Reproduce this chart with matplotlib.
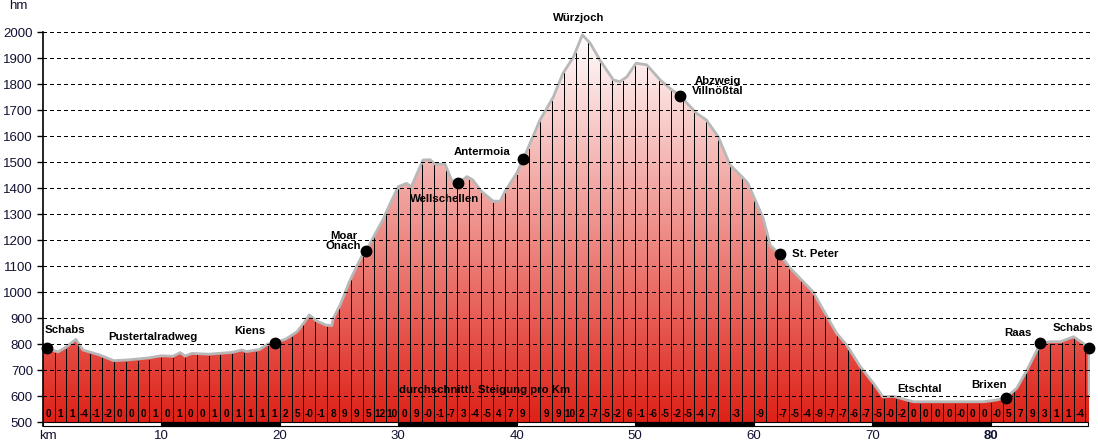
import numpy as np
import matplotlib
matplotlib.use("Agg")
import matplotlib.pyplot as plt
from matplotlib.colors import LinearSegmentedColormap
from matplotlib.patches import Rectangle, Polygon

plt.rcParams['font.family'] = ['Liberation Sans', 'DejaVu Sans']

# elevation profile: distance (km) and height (m)
km = [0.0, 0.34, 1.3, 2.0, 2.8, 3.4, 4.8, 6.0, 7.2, 9.0, 10.0, 11.0, 11.6, 12.0, 12.6,
      14.0, 16.0, 16.8, 17.2, 18.3, 19.0, 19.63, 20.5, 21.46, 22.0, 22.5, 23.1, 23.9,
      24.4, 24.52, 25.1, 25.9, 26.9, 27.3, 28.0, 28.7, 29.2, 30.0, 30.7, 31.1, 32.1,
      32.7, 33.1, 33.95, 34.5, 35.07, 35.8, 36.3, 37.05, 38.0, 38.6, 39.0, 40.0, 40.56,
      41.97, 43.1, 43.9, 44.8, 45.54, 46.2, 47.03, 48.15, 48.7, 49.3, 50.07, 50.97,
      52.1, 52.94, 53.8, 55.2, 56.0, 57.0, 58.0, 59.0, 59.5, 60.8, 61.4, 62.2, 63.1,
      65.0, 66.2, 67.0, 67.85, 69.0, 70.1, 70.9, 71.8, 72.9, 73.5, 79.4, 80.5, 81.3,
      82.2, 83.0, 84.2, 85.0, 85.9, 87.0, 87.8, 88.3]
hm = [785, 784, 771, 790, 819, 778, 759, 737, 740, 748, 756, 754, 768, 755, 765,
      762, 769, 778, 772, 780, 801, 806, 820, 848, 880, 913, 890, 874,
      872, 900, 951, 1043, 1137, 1159, 1220, 1278, 1329, 1406, 1419, 1406, 1509,
      1510, 1493, 1493, 1432, 1419, 1445, 1432, 1387, 1351, 1350, 1387, 1458, 1513,
      1663, 1752, 1842, 1906, 1990, 1958, 1893, 1817, 1810, 1829, 1881, 1875,
      1817, 1784, 1755, 1688, 1663, 1599, 1490, 1445, 1420, 1285, 1180, 1146, 1092,
      1002, 906, 842, 797, 714, 650, 598, 600, 586, 579, 579, 586, 595,
      631, 695, 804, 810, 810, 829, 804, 785]

# average gradient per km (%), empty where the chart shows nothing
slope = ["0", "1", "1", "-4", "-1", "-2", "0", "0", "0", "1",
         "0", "1", "0", "0", "1", "0", "1", "1", "1", "1",
         "2", "5", "-0", "-1", "8", "9", "9", "5", "12", "10",
         "0", "9", "-0", "-1", "-7", "3", "-4", "-5", "4", "7",
         "9", "", "9", "9", "10", "2", "-7", "-5", "-2", "6",
         "-1", "-6", "-5", "-2", "-5", "-4", "-7", "", "-3", "",
         "-9", "", "-7", "-5", "-4", "-9", "-7", "-7", "-6", "-7",
         "-5", "-0", "-2", "0", "0", "0", "0", "-0", "0", "0",
         "-0", "5", "7", "9", "3", "1", "1", "-4"]

# waypoints with a dot
dot_names = ["Schabs", "Kiens", "Moar Onach", "Wellschellen", "Antermoia",
             "Abzweig Villnößtal", "St. Peter", "Brixen", "Raas", "Schabs"]
dot_km = [0.34, 19.63, 27.3, 35.07, 40.56, 53.8, 62.2, 81.3, 84.2, 88.3]
dot_hm = [785, 806, 1159, 1419, 1513, 1755, 1146, 595, 804, 785]

# text labels
label_text = ["Schabs", "Pustertalradweg", "Kiens", "Moar\nOnach", "Wellschellen",
              "Antermoia", "Würzjoch", "Abzweig\nVillnößtal", "St. Peter",
              "Etschtal", "Brixen", "Raas", "Schabs", "durchschnittl. Steigung pro Km"]
label_pos = [(1.9, 855), (9.3, 827), (17.5, 851), (25.4, 1197), (33.95, 1358),
             (37.1, 1538), (45.2, 2056), (57.0, 1792), (65.2, 1146),
             (74.0, 627), (79.9, 643), (82.3, 842), (86.9, 861), (37.25, 624)]

x_ticks = [10, 20, 30, 40, 50, 60, 70, 80]
y_ticks = list(range(500, 2001, 100))

#######################################
# layout (pixels of a 1098x443 image)
#######################################
W, H = 1098, 443
x0, x1 = 42.7, 1090
y_top, y_bot = 32.3, 422.3
xmax = (x1 - x0) / 11.85

fig = plt.figure(figsize=(W / 100, H / 100), dpi=100)
ax = fig.add_axes([x0 / W, (H - y_bot) / H, (x1 - x0) / W, (y_bot - y_top) / H])
ax.set_xlim(0, xmax)
ax.set_ylim(500, 2000)

# gradient fill clipped to the profile
cmap = LinearSegmentedColormap.from_list("rw", [(0.87, 0.13, 0.09), (1, 1, 1)])
grad = np.linspace(0, 1, 256).reshape(-1, 1)
img = ax.imshow(grad, extent=(0, km[-1], 500, 2000), origin="lower", aspect="auto",
                cmap=cmap, zorder=1)
poly = Polygon(list(zip(km, hm)) + [(km[-1], 500), (0, 500)], closed=True,
               facecolor="none", edgecolor="none")
ax.add_patch(poly)
img.set_clip_path(poly)

# km lines
ks = np.arange(1, int(km[-1]) + 1)
tops = np.interp(ks, km, hm) - 7
ax.vlines(ks, 500, tops, color="black", lw=0.7, zorder=2, antialiased=False)

# outline
ax.plot(km + [km[-1]], hm + [610], color="#b8b8b8", lw=2.0, zorder=3,
        solid_joinstyle="round")

# grid
for v in y_ticks[1:]:
    ax.axhline(v, color="black", lw=0.7, ls=(0, (3.2, 3.2)), zorder=4, antialiased=False)

# slope labels
for i, s in enumerate(slope):
    ax.text(i + 0.5, 532, s, ha="center", va="center", fontsize=7.2,
            fontweight="bold", zorder=5)

# dots
ax.plot(dot_km, dot_hm, "o", color="black", ms=7.5, zorder=6, clip_on=False)

for t, (px, py) in zip(label_text, label_pos):
    ax.text(px, py, t, ha="center", va="center", fontsize=8.2, fontweight="bold",
            linespacing=1.0, zorder=7, clip_on=False)

# distance bar
ax.add_patch(Rectangle((0, 487), km[-1] - 0.1, 13, facecolor="white", edgecolor="black",
                       lw=0.8, clip_on=False, zorder=5))
for a in range(10, 80, 20):
    ax.add_patch(Rectangle((a, 487), 10, 13, facecolor="black", edgecolor="black",
                           lw=0.8, clip_on=False, zorder=5))

# axes
for sp in ["top", "right", "bottom"]:
    ax.spines[sp].set_visible(False)
ax.spines["left"].set_linewidth(1.2)
ax.spines["left"].set_bounds(487, 2000)
ax.set_yticks(y_ticks)
ax.set_yticklabels([str(v) for v in y_ticks], fontsize=9.5, color="#111133")
ax.tick_params(axis="y", length=4, width=1, pad=3)
ax.set_xticks([])
for t in x_ticks:
    ax.text(t, 448, str(t), ha="center", va="center", fontsize=9.5, color="#111133",
            fontweight="bold" if t == 80 else "normal", clip_on=False)
ax.text(0.45, 448, "km", ha="center", va="center", fontsize=9.5, color="#111133",
        clip_on=False)
fig.text(18 / W, 1 - 6 / H, "hm", ha="center", va="center", fontsize=9.5, color="#111133")

fig.savefig("out.png", dpi=100)
